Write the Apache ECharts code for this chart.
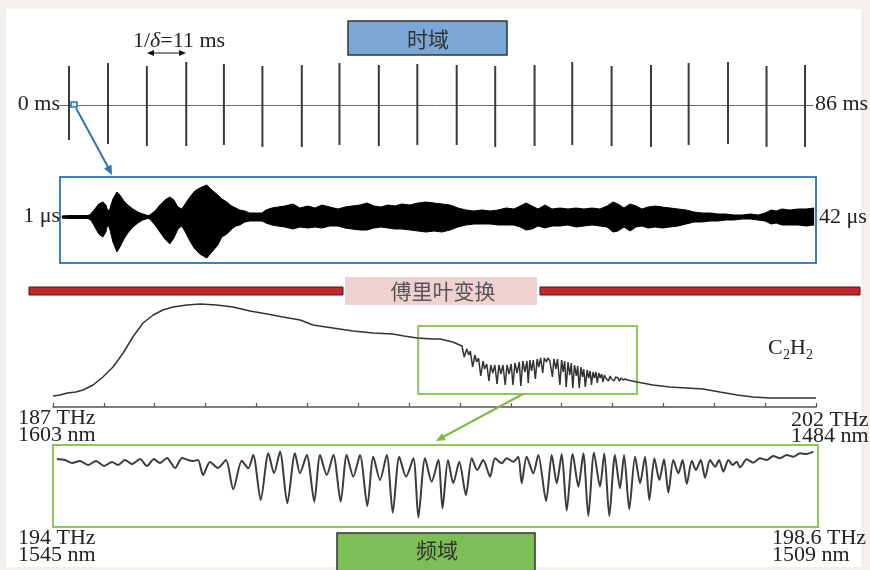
<!DOCTYPE html>
<html>
<head>
<meta charset="utf-8">
<script src="https://cdn.jsdelivr.net/npm/echarts@6/dist/echarts.min.js"></script>
<style>
  html, body { margin: 0; padding: 0; background: #f4f1ec; }
  #chart { width: 870px; height: 570px; }
</style>
</head>
<body>
<div id="chart"></div>
<script>
// ---- Pulse train (time domain, 0–86 ms) ----
const pulseTimeMs = [0, 4.56, 9.1, 13.7, 18.1, 22.6, 27.2, 31.6, 36.2, 40.7,
                     45.3, 49.8, 54.4, 58.8, 63.4, 68.0, 72.4, 77.0, 81.5, 86];
const pulseUp   = [39, 42, 39, 43, 41, 39, 40, 42, 40, 41, 40, 39, 40, 43, 39, 40, 42, 43, 39, 40];
const pulseDown = [35, 39, 41, 41, 40, 42, 42, 40, 41, 40, 40, 42, 41, 40, 41, 42, 40, 39, 42, 42];

// ---- Interferogram envelope (1–42 µs) ----
const igramTimeUs = [1.00,1.44,1.98,2.42,2.58,2.80,3.01,3.23,3.40,3.50,
  3.61,3.78,4.00,4.16,4.38,4.59,4.87,5.14,5.41,5.68,
  5.79,6.07,6.34,6.61,6.88,7.10,7.32,7.53,7.75,7.97,
  8.24,8.51,8.89,9.17,9.49,9.71,9.98,10.25,10.47,10.69,
  10.96,11.23,11.56,11.89,12.11,12.43,12.76,13.14,13.58,13.96,
  14.39,14.78,15.16,15.59,16.03,16.41,16.79,17.23,17.61,17.99,
  18.37,18.75,19.13,19.51,19.95,20.38,20.82,21.26,21.69,22.13,
  22.56,23.00,23.43,23.87,24.31,24.74,25.18,25.61,25.94,26.27,
  26.59,26.92,27.30,27.68,28.12,28.55,28.99,29.42,29.86,30.29,
  30.68,31.00,31.27,31.60,31.93,32.25,32.58,32.91,33.29,33.67,
  34.11,34.54,34.98,35.41,35.85,36.28,36.72,37.15,37.59,38.03,
  38.46,38.90,39.28,39.61,39.88,40.20,40.64,41.08,41.51,41.95];
const igramUpper = [1,1.5,1.5,1.5,3,8,13,15,12,6,
  8,18,25,22,16,12,8,5,3,1.5,
  2,6,12,17,20,17,10,8,14,20,
  26,29,32,27,22,18,15,11,9,7,
  6,4,4,4,7,9,10,11,13,9,
  11,9,12,10,8,10,11,12,14,11,
  10,12,11,13,12,14,15,14,13,12,
  9,7,6,7,6,7,9,8,11,14,
  11,8,12,8,9,8,9,8,9,8,
  11,15,13,9,13,11,8,10,11,10,
  9,8,7,5,4,4,3,3,2,2,
  3,2,4,7,6,8,7,8,8,9];
const igramLower = [1,1.5,1.5,1.5,3,10,17,20,15,7,
  12,25,35,30,22,16,10,6,3,1.5,
  2,8,15,22,27,21,12,9,16,24,
  32,37,41,35,28,20,17,12,9,8,
  5,4,4,4,6,8,9,10,12,10,
  11,10,11,9,9,11,12,13,13,11,
  10,11,12,12,13,14,15,14,15,13,
  10,8,7,7,7,8,8,8,10,13,
  12,9,11,9,9,8,10,9,8,9,
  10,15,14,10,14,10,9,11,10,11,
  10,9,7,5,5,4,4,3,3,2,
  2,3,4,7,6,8,8,8,9,8];

// ---- Broadband C2H2 spectrum (187–202 THz) ----
const specFreqTHz = [187.00,187.14,187.28,187.45,187.59,187.79,187.98,188.18,188.38,188.57,
  188.77,188.97,189.16,189.36,189.63,189.89,190.22,190.54,190.87,191.21,
  191.52,191.86,192.11,192.50,192.90,193.29,193.68,193.90,194.16,194.47,194.61,194.86,
  195.040,195.084,195.135,195.174,195.204,195.249,195.295,195.329,195.365,195.409,
  195.455,195.485,195.526,195.571,195.606,195.646,195.686,195.730,195.766,195.806,
  195.846,195.890,195.926,195.966,196.007,196.043,196.082,196.123,196.167,196.197,
  196.237,196.277,196.317,196.342,196.375,196.407,196.443,196.483,196.518,196.551,
  196.587,196.628,196.658,196.698,196.728,196.768,196.798,196.818,196.848,196.888,
  196.918,196.965,196.999,197.029,197.059,197.089,197.125,197.159,197.189,197.219,
  197.253,197.289,197.315,197.345,197.379,197.409,197.434,197.465,197.500,197.530,
  197.560,197.586,197.616,197.646,197.674,197.700,197.730,197.760,197.786,197.811,
  197.841,197.866,197.895,197.921,197.951,197.981,198.005,198.031,198.061,198.087,
  198.111,198.131,198.171,198.211,198.251,198.292,198.331,198.48,
  198.79,199.13,199.46,199.78,200.11,200.45,200.76,201.09,201.43,201.70,202.00];
const specLevel = [11,12,14,15,17,22,30,40,54,70,
  84,92,97,100,102,103,102,100,96,93,
  90,87,82,79,76,74,73,71,69,68,68,65,
  61,50,58,52,56,40,52,45,49,31,
  46,38,43,26,42,34,42,23,42,33,
  42,22,42,33,43,22,44,34,45,21,
  46,35,46,24,47,36,47,28,48,40,
  49,34,49,45,49,46,48,30,48,38,
  48,22,47,35,46,20,45,32,44,19,
  42,31,41,19,40,30,38,20,37,29,
  36,22,35,29,35,24,34,29,33,25,
  32,29,31,26,31,28,30,26,30,28,
  29,26,29,27,28,27,27,25,
  22,20,19,18,15,12,10,9,9,9,9];

// ---- Zoomed absorption detail (194–198.6 THz) ----
const zoomFreqTHz = [194.024,194.072,194.114,194.162,194.210,194.259,194.307,194.355,194.391,194.433,
  194.475,194.523,194.565,194.607,194.643,194.685,194.734,194.776,194.812,194.842,
  194.872,194.902,194.944,194.992,195.040,195.084,195.135,195.174,195.204,195.249,
  195.295,195.329,195.365,195.409,195.455,195.485,195.526,195.571,195.606,195.646,
  195.686,195.730,195.766,195.806,195.846,195.890,195.926,195.966,196.007,196.043,
  196.082,196.123,196.167,196.197,196.237,196.277,196.317,196.342,196.375,196.407,
  196.443,196.483,196.518,196.551,196.587,196.628,196.658,196.698,196.728,196.768,
  196.798,196.818,196.848,196.888,196.918,196.965,196.999,197.029,197.059,197.089,
  197.125,197.159,197.189,197.219,197.253,197.289,197.315,197.345,197.379,197.409,
  197.434,197.465,197.500,197.530,197.560,197.586,197.616,197.646,197.674,197.700,
  197.730,197.760,197.786,197.811,197.841,197.866,197.895,197.921,197.951,197.981,
  198.005,198.031,198.061,198.087,198.111,198.131,198.171,198.211,198.251,198.292,
  198.331,198.372,198.412,198.452,198.492,198.532,198.572];
const zoomLevel = [68,67,64,66,62,66,61,65,62,67,
  63,68,61,68,64,69,59,69,67,66,
  67,52,65,59,67,37.7,66.3,58.7,72,27,
  73.7,53.7,75.3,23.7,73.7,53.7,72,25.3,72,52,
  72,25.3,72,50.3,72,21,70.3,47,72,14.3,
  70.3,50.3,68.7,9.7,68.7,45.3,67,18.7,67,43.7,
  65.3,32,68.7,57,67,50.3,68.7,63.7,68.7,65.3,
  70.3,43.7,70.3,53.7,72,26,72,43.7,73,16.3,
  73,40.3,73.7,11,74.3,40.3,73.7,11,72,38.7,
  72,17.7,70.3,43.7,70.3,27,68.7,47,67.7,34.3,
  67,53.7,67,43,66.3,57,67,49.3,67,60.3,
  67,55.3,67,62,65.3,59.7,67.7,64.3,68.7,67,
  71,68.7,72,70.3,73.7,73,75.3];

// ---- Highlight window on the broadband spectrum ----
const zoomWindowTHz = [194.18, 198.48];
const zoomWindowLevel = [13, 81];

const SERIF = '"Liberation Serif","DejaVu Serif",serif';
const CJK = '"Noto Sans CJK SC",sans-serif';
const INK = '#222';

function label(text, x, y, align, size, font, color) {
  return {
    type: 'text', z: 20,
    style: {
      text: text, x: x, y: y,
      textAlign: align, align: align,
      textVerticalAlign: 'middle', verticalAlign: 'middle',
      font: (size || 22) + 'px ' + (font || SERIF),
      fill: color || INK
    }
  };
}

function arrowHead(points, color) {
  return { type: 'polygon', z: 20, shape: { points: points }, style: { fill: color } };
}

const chart = echarts.init(document.getElementById('chart'), null, { renderer: 'canvas' });

chart.setOption({
  backgroundColor: '#f4f1ec',
  animation: false,
  grid: [
    { left: 60, top: 60, width: 753, height: 90 },
    { left: 60, top: 177, width: 756, height: 86, show: true, borderColor: '#3d80c2', borderWidth: 2, backgroundColor: 'transparent' },
    { left: 53, top: 300, width: 763, height: 107 },
    { left: 53, top: 445, width: 765, height: 82, show: true, borderColor: '#8fc65a', borderWidth: 2, backgroundColor: 'transparent' }
  ],
  xAxis: [
    { gridIndex: 0, type: 'value', min: -1.05, max: 86.93,
      axisLine: { show: true, onZero: true, lineStyle: { color: '#666', width: 1 } },
      axisTick: { show: false }, axisLabel: { show: false }, splitLine: { show: false } },
    { gridIndex: 1, type: 'value', min: 0.9, max: 42.05,
      axisLine: { show: false }, axisTick: { show: false }, axisLabel: { show: false }, splitLine: { show: false } },
    { gridIndex: 2, type: 'value', min: 187, max: 202, interval: 1,
      axisLine: { show: true, lineStyle: { color: '#555', width: 1.5 } },
      axisTick: { show: true, inside: true, length: 4, lineStyle: { color: '#555', width: 1.2 } },
      axisLabel: { show: false }, splitLine: { show: false } },
    { gridIndex: 3, type: 'value', min: 194, max: 198.6,
      axisLine: { show: false }, axisTick: { show: false }, axisLabel: { show: false }, splitLine: { show: false } }
  ],
  yAxis: [
    { gridIndex: 0, type: 'value', min: -45, max: 45, show: false },
    { gridIndex: 1, type: 'value', min: -46, max: 40, show: false },
    { gridIndex: 2, type: 'value', min: 0, max: 107, show: false },
    { gridIndex: 3, type: 'value', min: 0, max: 82, show: false }
  ],
  series: [
    {
      name: 'pulses', type: 'custom', xAxisIndex: 0, yAxisIndex: 0,
      data: pulseTimeMs.map((t, i) => [t, pulseUp[i], -pulseDown[i]]),
      encode: { x: 0, y: [1, 2] },
      renderItem: function (params, api) {
        const a = api.coord([api.value(0), api.value(1)]);
        const b = api.coord([api.value(0), api.value(2)]);
        return { type: 'line', shape: { x1: a[0], y1: a[1], x2: b[0], y2: b[1] },
                 style: { stroke: '#3a3a3a', lineWidth: 2 } };
      }
    },
    {
      name: 'igram-upper', type: 'line', xAxisIndex: 1, yAxisIndex: 1,
      data: igramTimeUs.map((t, i) => [t, igramUpper[i]]),
      symbol: 'none', lineStyle: { color: '#000', width: 1 },
      areaStyle: { color: '#000', opacity: 1 }
    },
    {
      name: 'igram-lower', type: 'line', xAxisIndex: 1, yAxisIndex: 1,
      data: igramTimeUs.map((t, i) => [t, -igramLower[i]]),
      symbol: 'none', lineStyle: { color: '#000', width: 1 },
      areaStyle: { color: '#000', opacity: 1 }
    },
    {
      name: 'spectrum', type: 'line', xAxisIndex: 2, yAxisIndex: 2,
      data: specFreqTHz.map((f, i) => [f, specLevel[i]]),
      symbol: 'none', lineStyle: { color: '#333', width: 1.5 },
      markArea: {
        silent: true,
        itemStyle: { color: 'rgba(0,0,0,0)', borderColor: '#8fc65a', borderWidth: 2 },
        data: [[{ coord: [zoomWindowTHz[0], zoomWindowLevel[1]] },
                { coord: [zoomWindowTHz[1], zoomWindowLevel[0]] }]]
      }
    },
    {
      name: 'detail', type: 'line', xAxisIndex: 3, yAxisIndex: 3,
      data: zoomFreqTHz.map((f, i) => [f, zoomLevel[i]]),
      symbol: 'none', smooth: 0.25, lineStyle: { color: '#3c3c3c', width: 2 }
    }
  ],
  graphic: [
    // white sheet
    { type: 'rect', z: -10, shape: { x: 6, y: 9, width: 855, height: 558 }, style: { fill: '#ffffff' } },

    // time-domain header
    { type: 'rect', z: 10, shape: { x: 348, y: 21, width: 159, height: 34 }, style: { fill: '#7ba7d7', stroke: '#333', lineWidth: 1.5 } },
    label('时域', 428, 39, 'center', 21, CJK, '#333'),

    // repetition period annotation
    { type: 'text', z: 20, style: {
        text: '1/{i|δ}=11 ms', x: 133, y: 41, textAlign: 'left', align: 'left',
        textVerticalAlign: 'middle', verticalAlign: 'middle',
        font: '22px ' + SERIF, fill: INK,
        rich: { i: { fontStyle: 'italic', fontFamily: SERIF, fontSize: 22, fill: INK } } } },
    { type: 'line', z: 20, shape: { x1: 150, y1: 53, x2: 183, y2: 53 }, style: { stroke: '#111', lineWidth: 1.2 } },
    arrowHead([[147, 53], [154, 50], [154, 56]], '#111'),
    arrowHead([[186, 53], [179, 50], [179, 56]], '#111'),

    label('0 ms', 60, 104, 'right'),
    label('86 ms', 815, 104, 'left'),

    // zoom marker and arrow into the interferogram
    { type: 'rect', z: 20, shape: { x: 71, y: 102, width: 6, height: 5 }, style: { fill: '#dce8f4', stroke: '#2e75b6', lineWidth: 1.5 } },
    { type: 'line', z: 20, shape: { x1: 76, y1: 108, x2: 108, y2: 167 }, style: { stroke: '#2e75b6', lineWidth: 2 } },
    arrowHead([[112, 175], [104, 168.5], [111.5, 164.8]], '#2e75b6'),

    label('1 μs', 60, 216, 'right'),
    label('42 μs', 819, 217, 'left'),

    // Fourier transform bar
    { type: 'rect', z: 10, shape: { x: 29, y: 287, width: 314, height: 8 }, style: { fill: '#c1272d', stroke: '#4a1515', lineWidth: 1 } },
    { type: 'rect', z: 10, shape: { x: 540, y: 287, width: 320, height: 8 }, style: { fill: '#c1272d', stroke: '#4a1515', lineWidth: 1 } },
    { type: 'rect', z: 11, shape: { x: 345, y: 277, width: 192, height: 28 }, style: { fill: '#efd1d1' } },
    label('傅里叶变换', 443, 291, 'center', 21, CJK, '#555'),

    // species label
    label('C', 768, 348, 'left', 22),
    label('2', 783, 355, 'left', 14),
    label('H', 790, 348, 'left', 22),
    label('2', 806, 355, 'left', 14),

    label('187 THz', 18, 418, 'left'),
    label('1603 nm', 18, 435, 'left'),
    label('202 THz', 791, 420, 'left'),
    label('1484 nm', 791, 436, 'left'),

    // arrow to the detail panel
    { type: 'line', z: 20, shape: { x1: 523, y1: 394, x2: 443, y2: 437 }, style: { stroke: '#7dbb45', lineWidth: 2 } },
    arrowHead([[436, 441], [442, 433.2], [445.8, 440.2]], '#7dbb45'),

    label('194 THz', 18, 538, 'left'),
    label('1545 nm', 18, 555, 'left'),
    label('198.6 THz', 772, 538, 'left'),
    label('1509 nm', 772, 555, 'left'),

    // frequency-domain footer
    { type: 'rect', z: 10, shape: { x: 337, y: 533, width: 198, height: 40 }, style: { fill: '#7dbf57', stroke: '#333', lineWidth: 1.5 } },
    label('频域', 437, 550, 'center', 21, CJK, '#333')
  ]
});
</script>
</body>
</html>
